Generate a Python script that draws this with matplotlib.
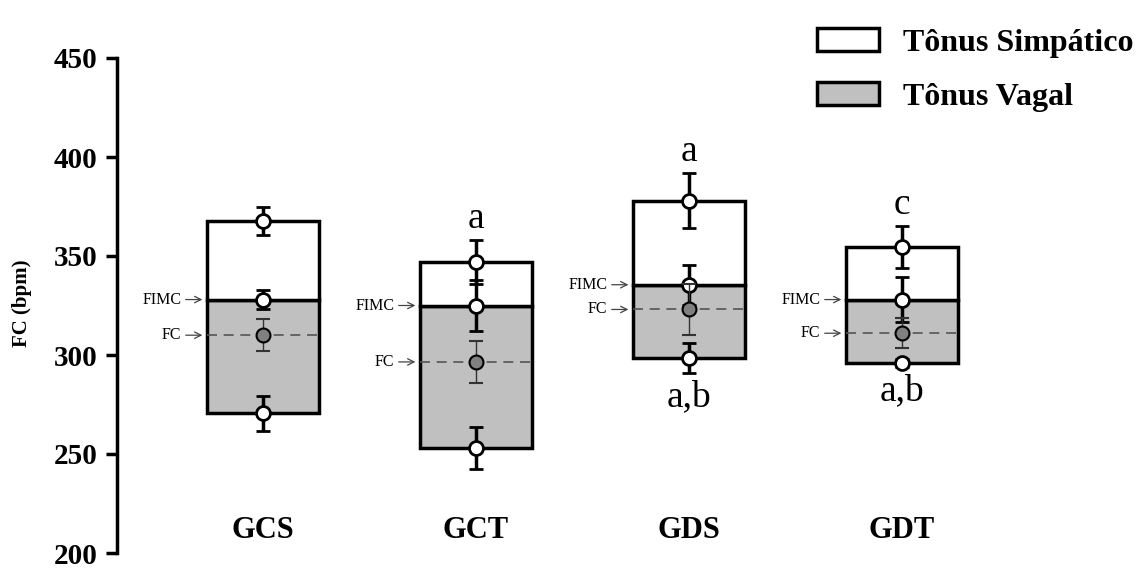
import numpy as np
import matplotlib.pyplot as plt
from matplotlib.patches import Patch

plt.rcParams['font.family'] = ['Liberation Serif', 'DejaVu Serif']

# dados (bpm)
grupos = ['GCS', 'GCT', 'GDS', 'GDT']
fc_atropina = [367.5, 347, 378, 354.5]
ep_atropina = [7, 11, 14, 10.5]
fimc = [328, 325, 335.5, 328]
ep_fimc = [5, 13, 10, 11.5]
fc_basal = [310, 296.5, 323, 311]
ep_basal = [8, 10.5, 13, 7.6]
fc_propranolol = [270.5, 253, 298.5, 296]
ep_propranolol = [9, 10.5, 7.5, 2]
letras_cima = ['', 'a', 'a', 'c']
letras_baixo = ['', '', 'a,b', 'a,b']

x = np.arange(len(grupos))
largura = 0.53

fig = plt.figure(figsize=(11.37, 5.76), dpi=100)
ax = fig.add_axes([117/1137, 23/576, 883/1137, 495/576])

"Caixas: tonus vagal (cinza) e simpatico (branco)"
ax.bar(x, np.subtract(fimc, fc_propranolol), largura, bottom=fc_propranolol,
       color='#c0c0c0', edgecolor='black', linewidth=2.5, zorder=1)
ax.bar(x, np.subtract(fc_atropina, fimc), largura, bottom=fimc,
       color='white', edgecolor='black', linewidth=2.5, zorder=1)

"FC basal tracejada"
ax.hlines(fc_basal, x - largura/2, x + largura/2, colors='#555555',
          linestyles=(0, (6, 4)), linewidth=1.2, zorder=2)

"Barras de erro e pontos"
for media, ep in [(fc_atropina, ep_atropina), (fimc, ep_fimc),
                  (fc_propranolol, ep_propranolol)]:
    ax.errorbar(x, media, yerr=ep, fmt='o', color='black', ecolor='black',
                elinewidth=2.5, capsize=5, capthick=2.5, markersize=10,
                markerfacecolor='white', markeredgecolor='black',
                markeredgewidth=2, zorder=3)
ax.errorbar(x, fc_basal, yerr=ep_basal, fmt='o', color='black',
            ecolor='#333333', elinewidth=1, capsize=5, capthick=1,
            markersize=10, markerfacecolor='#808080',
            markeredgecolor='black', markeredgewidth=1.5, zorder=5)

"Rotulos FIMC e FC"
for i in x:
    esq = i - largura/2
    for nome, val in [('FIMC', fimc[i]), ('FC', fc_basal[i])]:
        ax.annotate(nome, xy=(esq, val), xytext=(-25, 0),
                    textcoords='offset pixels', ha='right', va='center',
                    fontsize=11.5,
                    arrowprops=dict(arrowstyle='->', color='#444444',
                                    lw=0.9, shrinkA=1, shrinkB=3))
    if letras_cima[i]:
        ax.text(i, fc_atropina[i] + ep_atropina[i] + 6, letras_cima[i],
                ha='center', va='baseline', fontsize=27)
    if letras_baixo[i]:
        ax.text(i, fc_propranolol[i] - ep_propranolol[i] - 17,
                letras_baixo[i], ha='center', va='baseline', fontsize=27)
    ax.text(i, 211.6, grupos[i], ha='center', va='center', fontsize=22,
            fontweight='bold')

ax.set_ylim(200, 450)
ax.set_xlim(-146/213, 737/213)
ax.set_yticks(np.arange(200, 451, 50))
ax.set_xticks([])
for s in ['top', 'right', 'bottom']:
    ax.spines[s].set_visible(False)
ax.spines['left'].set_linewidth(2.5)
ax.tick_params(axis='y', direction='out', length=8, width=2.5, pad=6,
               labelsize=21)
for t in ax.get_yticklabels():
    t.set_fontweight('bold')

fig.text(22/1137, 1 - 303/576, 'FC (bpm)', rotation=90, ha='center',
         va='center', fontsize=15, fontweight='bold')

handles = [Patch(facecolor='white', edgecolor='black', linewidth=2.5),
           Patch(facecolor='#c0c0c0', edgecolor='black', linewidth=2.5)]
fig.legend(handles, ['Tônus Simpático', 'Tônus Vagal'], loc='upper left',
           bbox_to_anchor=(817/1137, 1 - 28/576), frameon=False,
           borderpad=0, borderaxespad=0, handlelength=1.95,
           handleheight=0.72, handletextpad=0.75, labelspacing=0.78,
           prop={'size': 23, 'weight': 'bold'})

fig.savefig('out.png', dpi=100)
